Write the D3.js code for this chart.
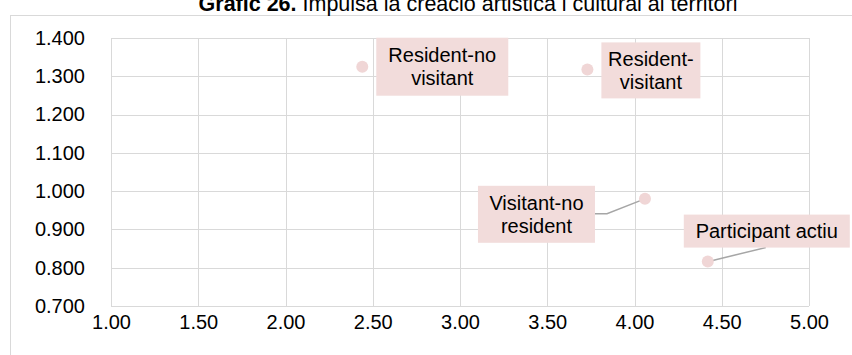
<!DOCTYPE html>
<html>
<head>
<meta charset="utf-8">
<script src="https://cdn.jsdelivr.net/npm/d3@7"></script>
<style>
  html, body { margin: 0; padding: 0; background: #fff; }
  svg { display: block; font-family: "Liberation Sans", Arial, sans-serif; }
</style>
</head>
<body>
<svg id="chart" width="852" height="355"></svg>
<script>
// ---- data ----
const categories = ["Resident-no visitant", "Resident-visitant", "Visitant-no resident", "Participant actiu"];
const xValues = [2.44, 3.73, 4.06, 4.42];
const yValues = [1.325, 1.318, 0.980, 0.816];
const labelLines = [["Resident-no", "visitant"], ["Resident-", "visitant"], ["Visitant-no", "resident"], ["Participant actiu"]];
const xTicks = [1.0, 1.5, 2.0, 2.5, 3.0, 3.5, 4.0, 4.5, 5.0];
const yTicks = [0.7, 0.8, 0.9, 1.0, 1.1, 1.2, 1.3, 1.4];
const titleBold = "Grafic 26.";
const titleRest = " Impulsa la creacio artistica i cultural al territori";

// ---- layout (styles) ----
const plot = { left: 111, right: 809, top: 38, bottom: 306 };
const labelBoxes = [
  { dx: 14, dy: -29, w: 132, h: 58, leader: false },
  { dx: 14, dy: -27, w: 99, h: 56, leader: false },
  { dx: -167, dy: -13, w: 117, h: 57, leader: true, elbow: [[-50, 15], [-38, 15]] },
  { dx: -24, dy: -47, w: 166, h: 33, leader: true, elbow: [[58, -14], [58, -14]] }
];

const svg = d3.select("#chart");
const x = d3.scaleLinear().domain([1, 5]).range([plot.left, plot.right]);
const y = d3.scaleLinear().domain([0.7, 1.4]).range([plot.bottom, plot.top]);

// outer chart border
svg.append("rect").attr("x", 10.5).attr("y", 15.5).attr("width", 900).attr("height", 400)
  .attr("fill", "none").attr("stroke", "#d9d9d9").attr("stroke-width", 1);

// title (partially clipped at top, as in the reference)
const title = svg.append("text").attr("x", 468).attr("y", 11).attr("text-anchor", "middle")
  .attr("font-size", 21.5).attr("fill", "#000");
title.append("tspan").attr("font-weight", "bold").text(titleBold);
title.append("tspan").text(titleRest);

// grid
const g = svg.append("g");
g.selectAll("line.v").data(xTicks).enter().append("line")
  .attr("x1", d => Math.round(x(d)) + 0.5).attr("x2", d => Math.round(x(d)) + 0.5)
  .attr("y1", plot.top).attr("y2", plot.bottom)
  .attr("stroke", "#d9d9d9").attr("stroke-width", 1);
g.selectAll("line.h").data(yTicks).enter().append("line")
  .attr("y1", d => Math.round(y(d)) + 0.5).attr("y2", d => Math.round(y(d)) + 0.5)
  .attr("x1", plot.left).attr("x2", plot.right)
  .attr("stroke", "#d9d9d9").attr("stroke-width", 1);

// axes via d3 axis generators (labels only)
const fmtY = d => d3.format(".3f")(d);
const fmtX = d => d3.format(".2f")(d);
const yAxis = svg.append("g").attr("transform", `translate(${plot.left},0)`)
  .call(d3.axisLeft(y).tickValues(yTicks).tickFormat(fmtY).tickSize(0).tickPadding(26));
const xAxis = svg.append("g").attr("transform", `translate(0,${plot.bottom})`)
  .call(d3.axisBottom(x).tickValues(xTicks).tickFormat(fmtX).tickSize(0).tickPadding(9));
[yAxis, xAxis].forEach(a => {
  a.select(".domain").remove();
  a.selectAll("text").attr("font-size", 20).attr("fill", "#000")
    .attr("font-family", "'Liberation Sans', Arial, sans-serif");
});

// points & labels
const pts = categories.map((c, i) => ({ c, x: xValues[i], y: yValues[i], lines: labelLines[i], box: labelBoxes[i] }));

const leaders = svg.append("g");
pts.forEach(p => {
  if (!p.box.leader) return;
  const px = x(p.x), py = y(p.y);
  const e = p.box.elbow;
  const path = d3.path();
  path.moveTo(px + e[0][0], py + e[0][1]);
  path.lineTo(px + e[1][0], py + e[1][1]);
  const ang = Math.atan2((py + e[1][1]) - py, (px + e[1][0]) - px);
  path.lineTo(px + 5 * Math.cos(ang), py + 5 * Math.sin(ang));
  leaders.append("path").attr("d", path.toString()).attr("fill", "none")
    .attr("stroke", "#a6a6a6").attr("stroke-width", 1.5);
});

svg.append("g").selectAll("circle").data(pts).enter().append("circle")
  .attr("cx", d => x(d.x)).attr("cy", d => y(d.y)).attr("r", 6)
  .attr("fill", "#f0d6d6");

const lab = svg.append("g").selectAll("g").data(pts).enter().append("g")
  .attr("transform", d => `translate(${x(d.x) + d.box.dx},${y(d.y) + d.box.dy})`);
lab.append("rect").attr("width", d => d.box.w).attr("height", d => d.box.h).attr("fill", "#f2dcdb");
lab.each(function(d) {
  const t = d3.select(this).append("text").attr("text-anchor", "middle").attr("font-size", 20).attr("fill", "#000");
  const n = d.lines.length;
  d.lines.forEach((ln, k) => {
    t.append("tspan").attr("x", d.box.w / 2)
      .attr("y", d.box.h / 2 + (k - (n - 1) / 2) * 23 + 7).text(ln);
  });
});
</script>
</body>
</html>
